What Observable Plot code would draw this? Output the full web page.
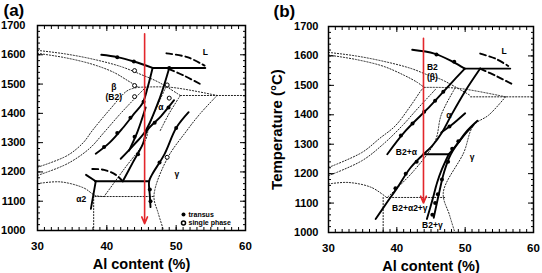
<!DOCTYPE html>
<html><head><meta charset="utf-8">
<script src="https://cdn.jsdelivr.net/npm/d3@7"></script>
<script src="https://cdn.jsdelivr.net/npm/@observablehq/plot@0.6"></script>
<style>
body{margin:0;background:#fff;width:542px;height:273px;overflow:hidden}
#wrap{position:relative;width:542px;height:273px}
#wrap > div{position:absolute;top:0}
</style></head><body><div id="wrap"><div id="pa" style="left:0"></div><div id="pb" style="left:271px"></div></div>
<script>
// ---------- shared tick labels ----------
const xTickLabels = [30, 40, 50, 60];
const yTickLabels = [1000, 1100, 1200, 1300, 1400, 1500, 1600, 1700];
const xLabel = "Al content (%)";
const yLabelB = "Temperature (°C)";
const legendTexts = ["transus", "single phase"];

// ---------- panel (a) ----------
const aSolid = {
  betaLiquidus: [[39.2,1600],[41.5,1592],[43.9,1577],[46.6,1555]],
  peritectic: [[46.6,1555],[54.2,1555]],
  betaTransus: [[46.6,1555],[45.9,1490],[45.15,1435],[43.8,1395],[42.3,1350],[40.4,1300],[38.4,1262]],
  midLine: [[45.6,1420],[44.4,1336],[43.2,1273]],
  alphaBeta: [[49.0,1555],[47.6,1450],[45.6,1341],[43.8,1290],[42.0,1245]],
  alphaGamma: [[49.7,1445],[47.8,1390],[45.8,1341],[45.2,1296],[43.7,1230],[42.3,1168]],
  gammaTransus: [[51.8,1404],[50.0,1350],[48.3,1260],[46.5,1190],[46.1,1168],[46.2,1120],[46.3,1080]],
  eutectoid: [[38.3,1168],[46.1,1168]],
  alpha2: [[38.4,1168],[37.7,1074]],
  alpha2b: [[37.0,1190],[38.4,1168]]
};
const aDashed = {
  liqUpper: [[48.6,1605],[51.6,1592],[54.1,1563]],
  liqLower: [[48.9,1552],[51.2,1528],[53.4,1501]],
  alpha2Dome: [[37.9,1210],[39.6,1207],[41.3,1190],[42.3,1168]]
};
const aDotted = {
  d1: [[30,1615],[34,1603],[38,1585],[42,1560],[45,1532],[47.5,1506],[50.6,1461]],
  d2: [[30,1605],[34,1590],[38,1567],[41,1540],[43,1512],[44.6,1489]],
  d3: [[44.6,1489],[49.2,1489],[55.9,1461]],
  d4: [[50.6,1461],[60,1461]],
  d5: [[30,1216],[34.3,1256],[36.6,1300],[37.9,1341],[40.5,1415],[43,1478],[44.6,1489]],
  d6: [[30,1188],[34.3,1228],[37.5,1280],[39.6,1335],[42,1400],[44.2,1455],[45.6,1489]],
  d7: [[48.5,1489],[46.1,1358],[45.6,1310],[42.5,1210],[39.6,1116]],
  d8: [[55.9,1461],[53.5,1400],[51.5,1340],[48.7,1245],[46.8,1119],[47.4,1060],[48.2,1000]],
  d9: [[50.6,1461],[49,1400],[47.7,1341]],
  d10: [[38.3,1116],[46.8,1116]],
  d11: [[30,1160],[33.3,1166],[36.7,1145],[38.3,1120],[39.6,1116]],
  d12: [[38.1,1116],[38.1,1000]]
};
const aTransus = [[41.5,1592],[43.9,1577],[49.0,1555],[45.3,1440],[43.4,1385],[41.5,1333],[39.6,1285],[44.0,1320],[48.9,1420],[46.9,1368],[44.5,1260],[50.0,1350],[47.6,1232],[46.2,1140],[46.3,1100]];
const aSingle = [[44,1546],[44,1495],[44,1457],[48.7,1497],[49,1452],[48.7,1250]];
const aLabelText = ["L","β","(B2)","α","γ","α2"];
const aLabelX = [54.2,41,41,47.8,50.1,36.3];
const aLabelY = [1609,1490,1455,1422,1191,1105];
const aArrow = [{x:45.45, top:1672, bottom:1023}];

// ---------- panel (b) ----------
const bSolid = {
  betaLiquidus: [[42.25,1621],[45.5,1608],[48.2,1580],[49.95,1557]],
  peritectic: [[49.95,1557],[56.6,1557]],
  betaTransus: [[49.95,1557],[47.9,1506],[44.9,1430],[41.3,1346],[38.6,1266]],
  alphaBeta: [[52.2,1557],[50,1480],[48,1400],[46.6,1340],[45.2,1295],[43.9,1266]],
  alphaShort: [[50,1405],[48,1365],[46.5,1340]],
  eutectoid: [[43.9,1266],[47.6,1266]],
  lower: [[43.9,1266],[42,1220],[40,1150],[38.5,1100],[36.9,1046]],
  g0: [[51.8,1380],[50.3,1346],[48.8,1300],[47.6,1266]],
  g1: [[51.2,1365],[49.8,1329],[47.9,1266],[46.9,1204],[46.2,1136],[45.4,1050]],
  g2: [[47.6,1266],[46.6,1215],[45.9,1170],[45.2,1110],[44.4,1046]]
};
const bDashed = {
  liqUpper: [[52.2,1608],[54.5,1590],[56.3,1566]],
  liqLower: [[52.2,1557],[54.7,1530],[56.9,1504]]
};
const bDotted = {
  d1: [[30,1612],[34,1600],[38,1582],[42,1558],[44.9,1532],[46.4,1521],[50.8,1465]],
  d2: [[30,1603],[34,1588],[38,1565],[41,1535],[43,1510],[44,1493]],
  d3: [[44,1493],[49,1490],[55.9,1461]],
  d4: [[50.8,1461],[60,1461]],
  d5: [[30,1221],[34.9,1272],[37.5,1320],[39.8,1363],[42,1430],[43.7,1487],[44,1493]],
  d6: [[30,1193],[34.9,1244],[38,1300],[40.8,1363],[43,1420],[45,1470],[45.8,1490]],
  d7: [[48.5,1490],[46.5,1400],[45.6,1310],[42.5,1210],[38.6,1119]],
  d8: [[55.9,1461],[53.5,1400],[51.2,1363],[49.8,1272],[46.8,1136],[47.7,1060],[48.5,1000]],
  d10: [[38.5,1119],[47,1119]],
  d11: [[30,1165],[32.9,1170],[36.3,1153],[38.5,1119]],
  d12: [[38,1119],[38,1000]]
};
const bTransus = [[45.8,1605],[48.4,1580],[46.8,1478],[45.6,1448],[44.0,1410],[42.3,1370],[40.6,1330],[42.9,1240],[41.3,1200],[39.8,1150],[47.7,1360],[49.0,1310],[48.1,1285],[47.5,1240],[46.6,1180],[46.0,1130],[45.6,1100],[45.2,1060]];
const bLabelText = ["L","B2","(β)","α","B2+α","γ","B2+α2+γ","B2+γ"];
const bLabelX = [55.7,45.2,45.2,47.6,41.4,51,41.9,45.2];
const bLabelY = [1617,1560,1527,1399,1273,1257,1082,1023];
const bArrow = [{x:43.9, top:1660, bottom:1100}];

// ---------- helpers ----------
const toRows = (obj) => Object.entries(obj).flatMap(([name, pts]) => pts.map(([x, y]) => ({name, x, y})));
const labelRows = (t, xs, ys) => t.map((text, i) => ({text, x: xs[i], y: ys[i]}));
const font = "'Liberation Sans', Arial, Helvetica, sans-serif";
const blank = () => "";
const plain = (d) => `${d}`;

function panel(o) {
  const marks = [
    Plot.line(toRows(o.dotted), {x:"x", y:"y", z:"name", stroke:"#222", strokeWidth:1, strokeDasharray:"1.2,1.8", curve:"catmull-rom"}),
    Plot.line(toRows(o.solid), {x:"x", y:"y", z:"name", stroke:"#000", strokeWidth:1.9, curve:"catmull-rom"}),
    Plot.line(toRows(o.dashed), {x:"x", y:"y", z:"name", stroke:"#000", strokeWidth:1.9, strokeDasharray:"6,3.5", curve:"catmull-rom"}),
    Plot.dot(o.transus, {x: d => d[0], y: d => d[1], r:2, fill:"#000"}),
    Plot.dot(o.single || [], {x: d => d[0], y: d => d[1], r:2, fill:"#fff", stroke:"#000", strokeWidth:1}),
    Plot.text(o.labels, {x:"x", y:"y", text:"text", fontSize:8.5, fontWeight:"bold", fill:"#000"}),
    Plot.arrow(o.arrow, {x1:"x", x2:"x", y1:"top", y2:"bottom", stroke:"#e3262b", strokeWidth:1.6, headLength:7, headAngle:45}),
    Plot.frame({stroke:"#000", strokeWidth:1.5}),
    // minor/major inward ticks on all four sides
    Plot.axisX(d3.range(30, 61, 1), {anchor:"bottom", tickSize:-3, tickFormat:blank, label:null}),
    Plot.axisX(d3.range(30, 61, 1), {anchor:"top", tickSize:-3, tickFormat:blank, label:null}),
    Plot.axisX(xTickLabels, {anchor:"bottom", tickSize:-5, tickFormat:blank, label:null}),
    Plot.axisX(xTickLabels, {anchor:"top", tickSize:-5, tickFormat:blank, label:null}),
    Plot.axisY(d3.range(1000, 1701, 20), {anchor:"left", tickSize:-3, tickFormat:blank, label:null}),
    Plot.axisY(d3.range(1000, 1701, 20), {anchor:"right", tickSize:-3, tickFormat:blank, label:null}),
    Plot.axisY(yTickLabels, {anchor:"left", tickSize:-6, tickFormat:blank, label:null}),
    Plot.axisY(yTickLabels, {anchor:"right", tickSize:-6, tickFormat:blank, label:null}),
    // tick labels
    Plot.axisX(xTickLabels, {anchor:"bottom", tickSize:0, tickPadding:11, tickFormat:plain, fontSize:11.5, fontWeight:"bold", label:null}),
    Plot.axisY(yTickLabels, {anchor:"left", tickSize:0, tickPadding:o.yPad, tickFormat:plain, fontSize:11, fontWeight:"bold", label:null}),
    Plot.text([xLabel], {frameAnchor:"bottom", dy:34, textAnchor:"middle", lineAnchor:"middle", fontSize:14.5, fontWeight:"bold"}),
    Plot.text([o.tag], {frameAnchor:"top-left", dx:o.tagDx, dy:-22, textAnchor:"start", lineAnchor:"top", fontSize:17, fontWeight:"bold"})
  ];
  if (o.yLabel) marks.push(Plot.text([o.yLabel], {frameAnchor:"left", rotate:-90, dx:-51, textAnchor:"middle", lineAnchor:"middle", fontSize:15, fontWeight:"bold"}));
  if (o.legend) {
    marks.push(
      Plot.dot([legendTexts[0]], {frameAnchor:"bottom-right", dx:-62, dy:-16, r:2, fill:"#000"}),
      Plot.dot([legendTexts[1]], {frameAnchor:"bottom-right", dx:-62, dy:-7.5, r:2, fill:"#fff", stroke:"#000"}),
      Plot.text([legendTexts[0]], {frameAnchor:"bottom-right", dx:-57, dy:-16, text:d=>d, textAnchor:"start", lineAnchor:"middle", fontSize:7, fontWeight:"bold"}),
      Plot.text([legendTexts[1]], {frameAnchor:"bottom-right", dx:-57, dy:-7.5, text:d=>d, textAnchor:"start", lineAnchor:"middle", fontSize:7, fontWeight:"bold"})
    );
  }
  return Plot.plot({
    width: 271, height: 273,
    marginLeft: o.ml, marginRight: o.mr, marginTop: o.mt, marginBottom: o.mb,
    x: {domain:[30,60]}, y: {domain:[1000,1700]},
    style: {fontFamily: font, background:"#fff", color:"#000", overflow:"visible"},
    marks
  });
}

document.getElementById("pa").append(panel({
  solid:aSolid, dashed:aDashed, dotted:aDotted, transus:aTransus, single:aSingle,
  labels:labelRows(aLabelText, aLabelX, aLabelY), arrow:aArrow,
  ml:37, mr:26, mt:25, mb:43, yPad:12, tag:"(a)", tagDx:-34, legend:true
}));
document.getElementById("pb").append(panel({
  solid:bSolid, dashed:bDashed, dotted:bDotted, transus:bTransus,
  labels:labelRows(bLabelText, bLabelX, bLabelY), arrow:bArrow,
  ml:57, mr:9, mt:26, mb:41, yPad:10, tag:"(b)", tagDx:-55, yLabel:yLabelB
}));
</script></body></html>
